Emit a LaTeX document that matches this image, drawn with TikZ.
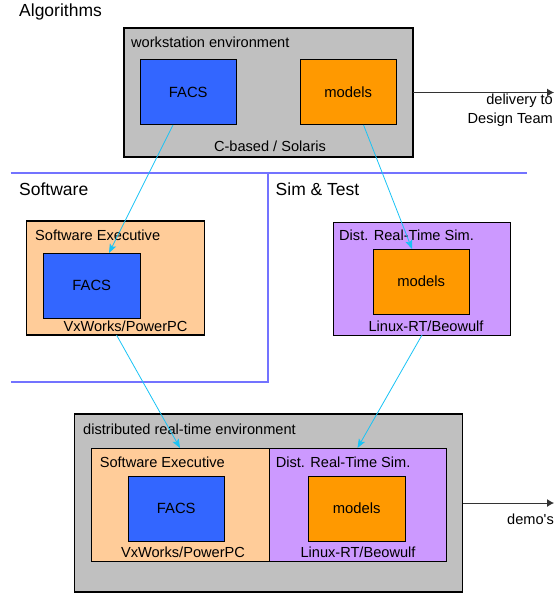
\documentclass[tikz,border=0pt]{standalone}
\usepackage{fontspec}
\setmainfont{Liberation Sans}
\usepackage{xcolor}
\usepackage{tikz}
\usetikzlibrary{arrows.meta}
\usetikzlibrary{positioning}
\definecolor{envgray}{HTML}{C0C0C0}
\definecolor{facsblue}{HTML}{3366FF}
\definecolor{modelorange}{HTML}{FF9900}
\definecolor{swpeach}{HTML}{FFCC99}
\definecolor{simpurple}{HTML}{CC99FF}
\definecolor{laneblue}{HTML}{7373FF}
\definecolor{flowcyan}{HTML}{19C3F5}
\tikzstyle{envbox} = [rectangle, draw=black, line width=1.5pt, fill=envgray,
anchor=north west, inner sep=0pt, outer sep=0pt]
\tikzstyle{compbox} = [rectangle, draw=black, line width=1pt, anchor=north west,
inner sep=0pt, outer sep=0pt, minimum width=178pt, minimum height=113pt]
\tikzstyle{corebox} = [rectangle, draw=black, line width=1pt, inner sep=0pt,
outer sep=0pt, minimum width=96.5pt, minimum height=65pt,
font=\fontsize{14.8}{17}\selectfont]
\tikzstyle{lbl} = [inner sep=0pt, anchor=base west, font=\fontsize{14.6}{17}\selectfont]
\tikzstyle{sublbl} = [inner sep=0pt, anchor=base, font=\fontsize{14.6}{17}\selectfont]
\tikzstyle{lanelbl} = [inner sep=0pt, anchor=base west, font=\fontsize{17.5}{20}\selectfont]
\tikzstyle{outflow} = [-{Latex[length=7pt, width=8pt]}, draw=black!80, line width=0.9pt]
\newcommand{\flowedge}[3][]{ %
  % cyan hand-over arrow from #2 to #3
  \path (#2) edge [-{Stealth[length=9pt, width=7pt, inset=2pt]}, draw=flowcyan, line width=0.8pt, #1] (#3) ;%
}

\begin{document}
\begin{tikzpicture}[x=1pt, y=1pt]
  \useasboundingbox (0,0) rectangle (555,-596);
  % lanes
  \draw[laneblue, line width=1.2pt] (10.5,-173) -- (527,-173);
  \draw[laneblue, line width=1.2pt] (268,-173) -- (268,-382) -- (10.5,-382);
  \node[lanelbl] (algo) at (19,-17) {Algorithms};
  \node[lanelbl] (soft) at (19,-195) {Software};
  \node[lanelbl] (simt) at (275.5,-195) {Sim \& Test};
  % workstation
  \node[envbox, minimum width=289pt, minimum height=129pt] (wsEnv) at (124,-28) {};
  \node[corebox, fill=facsblue, anchor=north west, below right = 32pt and 16pt of wsEnv.north west] (facsA) {FACS};
  \node[corebox, fill=modelorange, right = 63.5pt of facsA] (modelsA) {models};
  \node[lbl] (wsTag) at ([xshift=7pt, yshift=-20pt]wsEnv.north west) {workstation environment};
  \node[sublbl] (wsOs) at ([xshift=1.5pt, yshift=5pt]wsEnv.south) {C-based / Solaris};
  % software executive
  \node[compbox, fill=swpeach, line width=1.5pt, minimum height=114pt] (swA) at (26.5,-221) {};
  \node[corebox, fill=facsblue, anchor=north west, below right = 32pt and 17pt of swA.north west] (facsB) {FACS};
  \node[lbl] (swTagA) at ([xshift=8.5pt, yshift=-19.7pt]swA.north west) {Software Executive};
  \node[sublbl] (swOsA) at ([xshift=10pt, yshift=4pt]swA.south) {VxWorks/PowerPC};
  % real-time sim
  \node[compbox, fill=simpurple, minimum width=177pt] (simA) at (333,-222) {};
  \node[corebox, fill=modelorange, anchor=north west, below right = 27pt and 40pt of simA.north west] (modelsB) {models};
  \node[lbl] (simTagA) at ([xshift=6pt, yshift=-18.7pt]simA.north west) {Dist. Real-Time Sim.};
  \node[sublbl] (simOsA) at ([xshift=4.5pt, yshift=4pt]simA.south) {Linux-RT/Beowulf};
  % distributed environment
  \node[envbox, minimum width=388pt, minimum height=178pt] (botEnv) at (74.5,-414) {};
  \node[lbl] (botTag) at ([xshift=8.5pt, yshift=-20pt]botEnv.north west) {distributed real-time environment};
  \node[compbox, fill=swpeach, anchor=north west, below right = 34pt and 16.5pt of botEnv.north west] (swB) {};
  \node[compbox, fill=simpurple, minimum width=177pt, anchor=west, right = 0pt of swB] (simB) {};
  \node[corebox, fill=facsblue, anchor=north west, below right = 28pt and 37pt of swB.north west] (facsC) {FACS};
  \node[corebox, fill=modelorange, right = 84pt of facsC] (modelsC) {models};
  \node[lbl] (swTagB) at ([xshift=8.6pt, yshift=-19pt]swB.north west) {Software Executive};
  \node[lbl] (simTagB) at ([xshift=6.6pt, yshift=-19pt]simB.north west) {Dist. Real-Time Sim.};
  \node[sublbl] (swOsB) at ([xshift=3pt, yshift=4pt]swB.south) {VxWorks/PowerPC};
  \node[sublbl] (simOsB) at ([xshift=0.5pt, yshift=4pt]simB.south) {Linux-RT/Beowulf};
  % outputs
  \coordinate (delivOut) at (554,-92.5);
  \coordinate (demoOut) at (554,-503);
  \node[inner sep=0pt, anchor=north east, align=right, font=\fontsize{14.6}{19}\selectfont] (delivTag) at (553,-94) {delivery to\\Design Team};
  \node[inner sep=0pt, anchor=base east, font=\fontsize{14.6}{17}\selectfont] (demoTag) at (554,-524) {demo\textquotesingle s};

  % edges
  \path (wsEnv.east) edge [outflow] (delivOut);
  \path (botEnv.east) edge [outflow] (demoOut);
  % hand-over
  \flowedge {[xshift=-15.25pt]facsA.south} {[xshift=17.25pt]facsB.north}
  \flowedge {[xshift=15.3pt]modelsA.south} {[xshift=-9.25pt]modelsB.north}
  \flowedge {[xshift=1pt]swA.south} {swB.north}
  \flowedge {[xshift=0.5pt]simA.south} {simB.north}
\end{tikzpicture}
\end{document}
